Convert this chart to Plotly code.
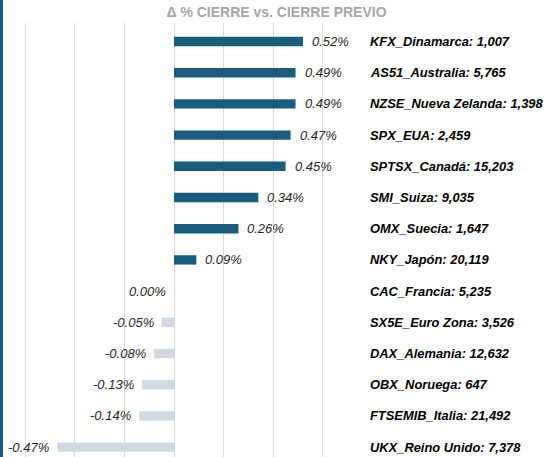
import plotly.graph_objects as go

# ---- data ----
index_names = ["KFX_Dinamarca", "AS51_Australia", "NZSE_Nueva Zelanda", "SPX_EUA",
               "SPTSX_Canadá", "SMI_Suiza", "OMX_Suecia", "NKY_Japón", "CAC_Francia",
               "SX5E_Euro Zona", "DAX_Alemania", "OBX_Noruega", "FTSEMIB_Italia",
               "UKX_Reino Unido"]
closes = ["1,007", "5,765", "1,398", "2,459", "15,203", "9,035", "1,647", "20,119",
          "5,235", "3,526", "12,632", "647", "21,492", "7,378"]
pct_change = [0.52, 0.49, 0.49, 0.47, 0.45, 0.34, 0.26, 0.09, 0.00,
              -0.05, -0.08, -0.13, -0.14, -0.47]
grid_ticks = [-0.6, -0.4, -0.2, 0.0, 0.2, 0.4, 0.6]
title_text = "Δ % CIERRE vs. CIERRE PREVIO"

POS = "#1B5C7A"
NEG = "#D0D9E3"
W, H = 553, 457
FONT = "Liberation Sans"

labels = [f"{n}: {c}" for n, c in zip(index_names, closes)]
colors = [POS if v > 0 else NEG for v in pct_change]

fig = go.Figure()
fig.add_trace(go.Bar(
    x=pct_change, y=labels, orientation="h",
    marker=dict(color=colors, line=dict(width=0)),
    width=0.3, hoverinfo="skip", showlegend=False,
))

annotations = []
for lab, v in zip(labels, pct_change):
    annotations.append(dict(
        x=v, y=lab, xref="x", yref="y",
        text=f"{v:.2f}%",
        xanchor="left" if v > 0 else "right",
        xshift=7 if v > 0 else -6,
        showarrow=False,
        font=dict(family=FONT, size=13, color="#262626", style="italic"),
    ))
    annotations.append(dict(
        x=368 / W, y=lab, xref="paper", yref="y",
        text=lab, xanchor="left", showarrow=False,
        font=dict(family=FONT, size=12.9, color="#000000", style="italic", weight="bold"),
    ))

zero_px = 174
px_per_unit = 248
x_lo = -zero_px / px_per_unit
x_hi = (W - zero_px) / px_per_unit

top = 23
row_h = 31.2
plot_h = H - top
first_off = (41.5 - top) / row_h
y_span = plot_h / row_h

fig.update_layout(
    width=W, height=H,
    margin=dict(l=0, r=0, t=top, b=0, autoexpand=False),
    paper_bgcolor="white", plot_bgcolor="white",
    title=dict(text=title_text, x=0.5, xanchor="center", y=1 - 12.5 / H, yanchor="middle",
               font=dict(family=FONT, size=14, color="#A6A6A6", weight="bold")),
    xaxis=dict(range=[x_lo, x_hi], tickvals=grid_ticks, showticklabels=False,
               showgrid=True, gridcolor="#D9D9D9", gridwidth=1, zeroline=False,
               showline=False, ticks="", fixedrange=True),
    yaxis=dict(type="category", range=[y_span - first_off, -first_off],
               showticklabels=False, showgrid=False, zeroline=False, ticks="",
               fixedrange=True),
    annotations=annotations,
    shapes=[dict(type="rect", xref="paper", yref="paper", x0=0, x1=3 / W,
                 y0=-0.2, y1=1.2, fillcolor="#1E5F80", line=dict(width=0), layer="above")],
)

fig.write_html("out.html",
               config={"displayModeBar": False},
               post_script="document.body.style.margin='0';document.body.style.overflow='hidden';")
